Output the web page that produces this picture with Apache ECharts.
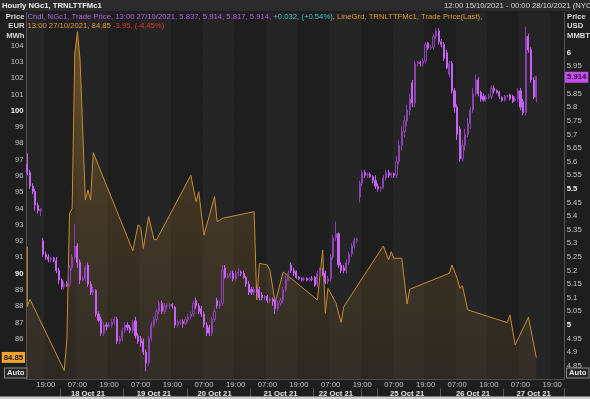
<!DOCTYPE html>
<html>
<head>
<meta charset="utf-8">
<title>Hourly NGc1, TRNLTTFMc1</title>
<script src="https://cdn.jsdelivr.net/npm/echarts@6/dist/echarts.min.js"></script>
<style>
html, body { margin: 0; padding: 0; background: #1e1e1e; }
#chart { width: 590px; height: 399px; }
</style>
</head>
<body>
<div id="chart"></div>
<script>
// trading sessions on the time axis: [day, first hour, last hour]
const sessions = [
    ['15 Oct', 12, 17], ['17 Oct', 18, 23], ['18 Oct', 0, 23], ['19 Oct', 0, 23],
    ['20 Oct', 0, 23], ['21 Oct', 0, 23], ['22 Oct', 0, 17], ['24 Oct', 18, 23],
    ['25 Oct', 0, 23], ['26 Oct', 0, 23], ['27 Oct', 0, 23]
];
const timeLabelHours = ['07:00', '19:00'];
const dateLabels = ['18 Oct 21', '19 Oct 21', '20 Oct 21', '21 Oct 21', '22 Oct 21', '25 Oct 21', '26 Oct 21', '27 Oct 21'];
const dateLabelSlots = [23, 48, 71, 96, 117, 144, 169, 192];
const daySeparatorSlots = [13, 37, 61, 85, 109, 127, 133, 157, 181];

// NGc1 hourly candles, USD/MMBtu: [open, close, low, high]
const ngCandles = [
    [5.59, 5.56, 5.55, 5.63], [5.56, 5.51, 5.50, 5.57], [5.51, 5.49, 5.48, 5.52], [5.49, 5.44, 5.42, 5.50],
    [5.44, 5.42, 5.41, 5.45], [5.42, 5.425, 5.40, 5.43], [5.31, 5.26, 5.25, 5.32], [5.26, 5.25, 5.24, 5.27],
    [5.25, 5.24, 5.23, 5.26], [5.24, 5.245, 5.23, 5.25], [5.245, 5.235, 5.23, 5.25], [5.235, 5.20, 5.19, 5.25],
    [5.20, 5.165, 5.15, 5.21], [5.165, 5.14, 5.13, 5.17], [5.14, 5.15, 5.13, 5.16], [5.15, 5.145, 5.14, 5.16],
    [5.15, 5.21, 5.14, 5.22], [5.21, 5.25, 5.20, 5.26], [5.25, 5.29, 5.24, 5.37], [5.29, 5.23, 5.21, 5.30],
    [5.23, 5.165, 5.15, 5.24], [5.165, 5.17, 5.16, 5.18], [5.17, 5.21, 5.16, 5.22], [5.22, 5.15, 5.14, 5.23],
    [5.15, 5.12, 5.11, 5.16], [5.12, 5.13, 5.11, 5.14], [5.127, 5.04, 5.03, 5.13], [5.04, 5.017, 5.01, 5.05],
    [5.02, 4.97, 4.96, 5.03], [4.97, 5.00, 4.96, 5.01], [5.00, 4.995, 4.98, 5.01], [4.995, 5.00, 4.99, 5.01],
    [5.00, 5.01, 4.99, 5.02], [5.01, 5.02, 5.00, 5.03], [5.02, 4.94, 4.93, 5.03], [4.94, 4.95, 4.93, 4.96],
    [4.95, 4.98, 4.94, 4.99], [4.98, 5.00, 4.97, 5.01], [5.00, 4.99, 4.98, 5.01], [4.99, 4.98, 4.97, 5.00],
    [4.98, 5.01, 4.97, 5.02], [5.015, 4.96, 4.95, 5.03], [4.96, 4.94, 4.93, 4.97], [4.95, 4.935, 4.92, 4.96],
    [4.94, 4.90, 4.89, 4.95], [4.90, 4.86, 4.83, 4.91], [4.86, 4.95, 4.85, 4.96], [4.95, 5.00, 4.94, 5.01],
    [5.00, 5.02, 4.99, 5.03], [5.02, 5.05, 5.01, 5.06], [5.05, 5.08, 5.04, 5.09], [5.08, 5.05, 5.04, 5.09],
    [5.05, 5.07, 5.04, 5.08], [5.07, 5.072, 5.06, 5.08], [5.072, 5.075, 5.06, 5.08], [5.075, 5.07, 5.06, 5.08],
    [5.065, 5.00, 4.99, 5.07], [5.00, 5.01, 4.99, 5.02], [5.01, 5.012, 5.00, 5.02], [5.012, 5.005, 4.99, 5.02],
    [5.005, 5.02, 5.00, 5.03], [5.02, 5.03, 5.01, 5.04], [5.03, 5.04, 5.02, 5.05], [5.04, 5.08, 5.03, 5.09],
    [5.09, 5.07, 5.06, 5.10], [5.07, 5.05, 5.04, 5.08], [5.06, 5.04, 5.03, 5.07], [5.04, 5.00, 4.99, 5.05],
    [5.00, 4.97, 4.96, 5.01], [4.99, 4.97, 4.96, 5.00], [4.97, 5.02, 4.96, 5.03], [5.02, 5.05, 5.01, 5.06],
    [5.09, 5.07, 5.06, 5.10], [5.07, 5.08, 5.06, 5.09], [5.08, 5.20, 5.07, 5.22], [5.21, 5.175, 5.17, 5.22],
    [5.175, 5.18, 5.17, 5.19], [5.18, 5.19, 5.17, 5.20], [5.19, 5.17, 5.16, 5.20], [5.17, 5.19, 5.16, 5.20],
    [5.19, 5.195, 5.18, 5.21], [5.195, 5.19, 5.18, 5.20], [5.19, 5.175, 5.17, 5.20], [5.175, 5.15, 5.14, 5.18],
    [5.15, 5.12, 5.11, 5.16], [5.13, 5.12, 5.11, 5.14], [5.12, 5.13, 5.11, 5.14], [5.13, 5.125, 5.11, 5.14],
    [5.13, 5.10, 5.09, 5.14], [5.11, 5.10, 5.09, 5.12], [5.10, 5.105, 5.09, 5.11], [5.105, 5.09, 5.08, 5.11],
    [5.09, 5.095, 5.08, 5.10], [5.095, 5.085, 5.07, 5.10], [5.09, 5.06, 5.04, 5.10], [5.06, 5.08, 5.05, 5.09],
    [5.08, 5.09, 5.07, 5.10], [5.09, 5.13, 5.08, 5.14], [5.13, 5.165, 5.12, 5.18], [5.165, 5.19, 5.16, 5.20],
    [5.22, 5.20, 5.19, 5.23], [5.20, 5.19, 5.18, 5.21], [5.195, 5.175, 5.17, 5.20], [5.175, 5.17, 5.165, 5.18],
    [5.17, 5.168, 5.16, 5.175], [5.168, 5.17, 5.16, 5.175], [5.17, 5.165, 5.16, 5.175], [5.165, 5.17, 5.16, 5.175],
    [5.17, 5.168, 5.16, 5.18], [5.175, 5.146, 5.14, 5.18], [5.15, 5.19, 5.14, 5.20], [5.19, 5.20, 5.18, 5.21],
    [5.20, 5.185, 5.18, 5.21], [5.19, 5.157, 5.15, 5.20], [5.16, 5.17, 5.15, 5.18], [5.17, 5.25, 5.16, 5.26],
    [5.25, 5.32, 5.24, 5.33], [5.32, 5.335, 5.31, 5.38], [5.335, 5.22, 5.21, 5.34], [5.22, 5.20, 5.19, 5.23],
    [5.21, 5.20, 5.19, 5.22], [5.20, 5.23, 5.19, 5.24], [5.23, 5.26, 5.22, 5.27], [5.26, 5.29, 5.25, 5.30],
    [5.29, 5.31, 5.28, 5.32], [5.31, 5.315, 5.30, 5.32], [5.47, 5.52, 5.45, 5.53], [5.52, 5.56, 5.51, 5.57],
    [5.56, 5.55, 5.54, 5.57], [5.55, 5.553, 5.54, 5.56], [5.553, 5.545, 5.54, 5.56], [5.545, 5.53, 5.52, 5.55],
    [5.53, 5.51, 5.50, 5.55], [5.51, 5.50, 5.49, 5.52], [5.50, 5.505, 5.49, 5.51], [5.505, 5.54, 5.50, 5.55],
    [5.54, 5.56, 5.53, 5.57], [5.56, 5.55, 5.54, 5.57], [5.55, 5.555, 5.54, 5.56], [5.555, 5.55, 5.54, 5.56],
    [5.55, 5.60, 5.54, 5.62], [5.60, 5.66, 5.59, 5.68], [5.66, 5.71, 5.64, 5.73], [5.71, 5.75, 5.69, 5.77],
    [5.75, 5.79, 5.73, 5.81], [5.79, 5.83, 5.77, 5.85], [5.89, 5.815, 5.80, 5.90], [5.815, 5.96, 5.80, 5.97],
    [5.96, 5.965, 5.95, 5.97], [5.965, 5.96, 5.95, 5.97], [5.96, 5.97, 5.95, 5.98], [5.97, 6.03, 5.96, 6.04],
    [6.035, 6.017, 6.01, 6.04], [6.017, 6.02, 6.01, 6.03], [6.02, 6.06, 6.01, 6.07], [6.06, 6.08, 6.05, 6.09],
    [6.08, 6.04, 6.03, 6.09], [6.04, 6.03, 6.02, 6.05], [6.03, 5.98, 5.97, 6.04], [6.00, 5.945, 5.94, 6.01],
    [5.92, 5.96, 5.91, 5.97], [5.96, 5.86, 5.85, 5.97], [5.86, 5.80, 5.78, 5.87], [5.80, 5.70, 5.68, 5.81],
    [5.72, 5.61, 5.60, 5.73], [5.61, 5.66, 5.60, 5.68], [5.66, 5.70, 5.64, 5.72], [5.70, 5.74, 5.69, 5.76],
    [5.74, 5.79, 5.72, 5.80], [5.79, 5.85, 5.78, 5.87], [5.85, 5.90, 5.84, 5.92], [5.90, 5.85, 5.84, 5.91],
    [5.855, 5.83, 5.82, 5.86], [5.84, 5.826, 5.82, 5.85], [5.83, 5.835, 5.82, 5.845], [5.835, 5.84, 5.83, 5.85],
    [5.84, 5.87, 5.83, 5.88], [5.87, 5.86, 5.85, 5.88], [5.86, 5.855, 5.85, 5.865], [5.855, 5.84, 5.83, 5.86],
    [5.835, 5.825, 5.82, 5.84], [5.825, 5.84, 5.82, 5.845], [5.84, 5.842, 5.835, 5.845], [5.845, 5.83, 5.825, 5.85],
    [5.84, 5.82, 5.815, 5.845], [5.825, 5.83, 5.82, 5.84], [5.83, 5.86, 5.82, 5.87], [5.86, 5.80, 5.79, 5.87],
    [5.82, 5.78, 5.77, 5.83], [5.78, 6.06, 5.77, 6.095], [6.06, 6.01, 6.00, 6.07], [6.01, 5.90, 5.89, 6.02],
    [5.90, 5.837, 5.83, 5.91], [5.837, 5.914, 5.817, 5.914]
];

// TRNLTTFMc1 last trade, EUR/MWh, at the hour slots where it printed
const ttfSlots = [0, 0, 1, 14, 15, 16, 17, 18, 19, 20, 22, 23, 24, 25, 40, 42, 43, 44, 46, 48, 49,
    62, 64, 65, 67, 71, 72, 74, 86, 87, 88, 91, 92, 94, 97, 110, 112, 113, 114, 117, 119, 120,
    135, 137, 138, 139, 142, 144, 145, 160, 161, 163, 164, 165, 167, 182, 183, 185, 190, 193];
const ttfPrices = [91.65, 87.97, 88.42, 84.04, 85.92, 93.7, 94.0, 103.53, 104.86, 103.12, 94.52, 95.14, 94.52, 97.43,
    91.41, 93.0, 92.84, 91.55, 93.5, 92.11, 92.07, 96.04, 94.42, 95.03, 92.37, 94.73, 93.19, 93.4,
    93.8, 88.38, 90.63, 90.53, 90.2, 88.2, 90.1, 88.38, 91.45, 87.56, 89.1, 88.2, 87.0, 87.97,
    91.7, 90.84, 91.35, 90.94, 90.94, 88.13, 89.04, 90.02, 90.53, 89.71, 89.1, 89.24, 87.77,
    86.99, 87.46, 85.62, 87.32, 84.85];

const ngLast = 5.914;
const ttfLast = 84.85;

const FONT = 'Liberation Sans';
const FS = 7.7;

// one category per traded hour
const slots = [];
sessions.forEach(function (s) {
    for (let h = s[1]; h <= s[2]; h++) {
        slots.push(s[0] + ' ' + String(h).padStart(2, '0') + ':00');
    }
});
const isTimeLabel = function (i, v) {
    return timeLabelHours.indexOf(String(v).slice(-5)) >= 0;
};

const chart = echarts.init(document.getElementById('chart'), null, { renderer: 'canvas' });

function txt(x, y, text, fill, bold, align) {
    return {
        type: 'text', x: x, y: y, z: 100, silent: true,
        style: {
            text: text, fill: fill,
            font: (bold ? 'bold ' : '') + FS + 'px "' + FONT + '"',
            align: align || 'left', verticalAlign: 'middle',
            textAlign: align || 'left', textVerticalAlign: 'middle'
        }
    };
}
function autoBox(x) {
    return {
        type: 'text', x: x, y: 373, z: 100, silent: true,
        style: {
            text: 'Auto', fill: '#e6e6e6', font: 'bold ' + FS + 'px "' + FONT + '"',
            align: 'left', verticalAlign: 'middle', textAlign: 'left', textVerticalAlign: 'middle',
            backgroundColor: '#262626', borderColor: '#8a8a8a', borderWidth: 1, padding: [1, 2, 0, 2]
        }
    };
}
const rich = function (c) { return { fill: c, color: c, font: FS + 'px "' + FONT + '"' }; };

// price tag on the axis for the last value of a series
function lastTag(value, side, bg, fg) {
    return {
        silent: true, symbol: 'none',
        lineStyle: { color: 'rgba(0,0,0,0)', width: 0 },
        label: {
            show: true, position: side, distance: 1,
            formatter: String(value),
            backgroundColor: bg, color: fg,
            fontSize: FS, fontWeight: 'bold', padding: [2, 2, 1, 2]
        },
        data: [{ yAxis: value }]
    };
}

const option = {
    animation: false,
    backgroundColor: '#1e1e1e',
    textStyle: { fontFamily: FONT },
    grid: {
        left: 26, right: 26, top: 12.5, bottom: 19.6,
        show: true, backgroundColor: '#1e1e1e', borderWidth: 0
    },
    xAxis: [{
        type: 'category',
        data: slots,
        boundaryGap: true,
        axisLine: { lineStyle: { color: '#4a4a4a' } },
        axisTick: { show: false },
        axisLabel: {
            interval: isTimeLabel,
            formatter: function (v) { return v.slice(-5); },
            color: '#c4c4c4', fontSize: FS, margin: 1
        },
        splitLine: { show: false },
        splitArea: {
            show: true, interval: isTimeLabel,
            areaStyle: { color: ['#252525', '#1e1e1e'] }
        }
    }, {
        type: 'category',
        data: slots,
        boundaryGap: true,
        position: 'bottom',
        offset: 9,
        axisLine: { show: false },
        axisTick: {
            show: true, length: 9,
            interval: function (i) { return daySeparatorSlots.indexOf(i) >= 0; },
            lineStyle: { color: '#5a5a5a' }
        },
        axisLabel: {
            interval: function (i) { return dateLabelSlots.indexOf(i) >= 0; },
            formatter: function (v, i) { return dateLabels[dateLabelSlots.indexOf(i)] || ''; },
            color: '#e6e6e6', fontSize: FS, fontWeight: 'bold', margin: 1
        }
    }],
    yAxis: [{
        type: 'value',
        position: 'left',
        min: 83.5, max: 106.04, interval: 0.5,
        axisLine: { show: true, lineStyle: { color: '#555' } },
        axisTick: { show: false },
        axisLabel: {
            margin: 2.5, fontSize: FS, color: '#c4c4c4',
            showMinLabel: false, showMaxLabel: false,
            formatter: function (v) {
                if (Math.abs(v - Math.round(v)) > 1e-6 || v < 86 || v > 104) return '';
                return v % 10 === 0 ? '{b|' + v + '}' : String(v);
            },
            rich: { b: { fontWeight: 'bold', color: '#f2f2f2', fontSize: FS } }
        },
        splitLine: { show: true, lineStyle: { color: ['rgba(0,0,0,0)', '#2e2e2e'], width: 1 } }
    }, {
        type: 'value',
        position: 'right',
        min: 4.8, max: 6.1478, interval: 0.05,
        axisLine: { show: true, lineStyle: { color: '#555' } },
        axisTick: { show: false },
        axisLabel: {
            margin: 2.7, fontSize: FS, color: '#c4c4c4',
            showMinLabel: false, showMaxLabel: false,
            formatter: function (v) {
                const r = Math.round(v * 100) / 100;
                if (r < 4.85 || r > 6.001) return '';
                return Math.abs(r * 2 - Math.round(r * 2)) < 1e-6 ? '{b|' + r + '}' : String(r);
            },
            rich: { b: { fontWeight: 'bold', color: '#f2f2f2', fontSize: FS } }
        },
        splitLine: { show: false }
    }],
    series: [{
        name: 'TRNLTTFMc1',
        type: 'line',
        xAxisIndex: 0, yAxisIndex: 0,
        data: ttfSlots.map(function (s, k) { return [s, ttfPrices[k]]; }),
        symbol: 'none',
        lineStyle: { color: '#c88b2e', width: 1 },
        areaStyle: {
            origin: 'start',
            color: new echarts.graphic.LinearGradient(0, 0, 0, 1, [
                { offset: 0, color: 'rgba(190,128,40,0.66)' },
                { offset: 0.5, color: 'rgba(160,115,45,0.36)' },
                { offset: 1, color: 'rgba(130,100,52,0.2)' }
            ])
        },
        z: 2,
        markLine: lastTag(ttfLast, 'start', '#f3a32a', '#161616')
    }, {
        name: 'NGc1',
        type: 'candlestick',
        xAxisIndex: 0, yAxisIndex: 1,
        data: ngCandles,
        barWidth: '62%',
        itemStyle: {
            color: 'rgba(0,0,0,0)', borderColor: '#8a42b0',
            color0: '#c862f2', borderColor0: '#c862f2',
            borderWidth: 1
        },
        z: 3,
        markLine: lastTag(ngLast, 'end', '#c650ee', '#2a0636')
    }],
    graphic: [
        { type: 'rect', x: 0, y: 0, z: 90, silent: true, shape: { width: 590, height: 11 }, style: { fill: '#2b2b2b' } },
        { type: 'rect', x: 0, y: 396.6, z: 90, silent: true, shape: { width: 590, height: 3 }, style: { fill: '#cfcfcf' } },
        txt(2, 6, 'Hourly NGc1, TRNLTTFMc1', '#ededed', true),
        txt(444, 6, '12:00 15/10/2021 - 00:00 28/10/2021 (NYC)', '#d6d6d6', false),
        txt(24.5, 16.5, 'Price', '#d9d9d9', true, 'right'),
        txt(24.5, 26, 'EUR', '#d9d9d9', true, 'right'),
        txt(24.5, 35.5, 'MWh', '#d9d9d9', true, 'right'),
        txt(567, 16.5, 'Price', '#d9d9d9', true),
        txt(567, 26, 'USD', '#d9d9d9', true),
        txt(567, 35.5, 'MMBT', '#d9d9d9', true),
        {
            type: 'text', x: 27.5, y: 16.5, z: 100, silent: true,
            style: {
                text: '{p|Cndl, NGc1, Trade Price, 13:00 27/10/2021, 5.837, 5.914, 5.817, 5.914, }{g|+0.032, (+0.54%)}{o|, LineGrd, TRNLTTFMc1, Trade Price(Last),}',
                verticalAlign: 'middle', textVerticalAlign: 'middle',
                font: FS + 'px "' + FONT + '"',
                rich: { p: rich('#b45fe6'), g: rich('#3cc6c6'), o: rich('#e29c2e') }
            }
        },
        {
            type: 'text', x: 27.5, y: 26, z: 100, silent: true,
            style: {
                text: '{o|13:00 27/10/2021, 84.85 }{r|-3.95, (-4.45%)}',
                verticalAlign: 'middle', textVerticalAlign: 'middle',
                font: FS + 'px "' + FONT + '"',
                rich: { o: rich('#e29c2e'), r: rich('#e8342c') }
            }
        },
        autoBox(5),
        autoBox(567)
    ]
};
chart.setOption(option);
</script>
</body>
</html>
